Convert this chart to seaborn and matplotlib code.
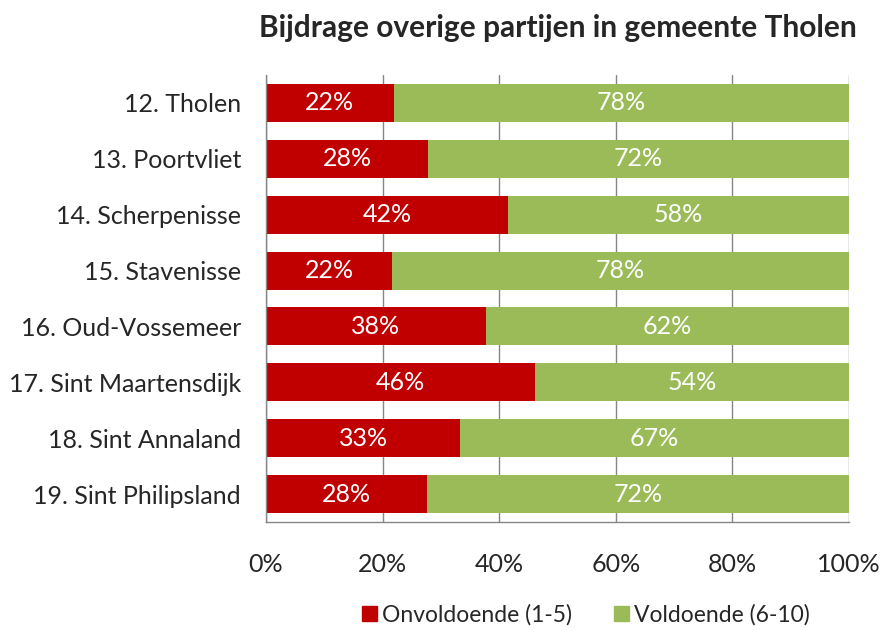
import matplotlib
matplotlib.use("Agg")
import matplotlib.pyplot as plt
import seaborn as sns
import pandas as pd
from matplotlib.patches import Patch

categories = ["12. Tholen", "13. Poortvliet", "14. Scherpenisse", "15. Stavenisse",
              "16. Oud-Vossemeer", "17. Sint Maartensdijk", "18. Sint Annaland",
              "19. Sint Philipsland"]
onvoldoende = [21.9, 27.8, 41.5, 21.6, 37.7, 46.1, 33.3, 27.6]
voldoende = [100 - v for v in onvoldoende]
xticks = [0, 20, 40, 60, 80, 100]

red = "#C00000"
green = "#9BBB59"

sns.set_style("white")
plt.rcParams["font.family"] = ["Lato", "DejaVu Sans"]

df = pd.DataFrame({"cat": categories, "onv": onvoldoende, "vol": voldoende})
df["total"] = df["onv"] + df["vol"]

fig = plt.figure(figsize=(8.82, 6.3), dpi=100)
ax = fig.add_axes([266 / 882, 1 - 522 / 630, (849 - 266) / 882, (522 - 75) / 630])

sns.barplot(data=df, y="cat", x="total", color=green, orient="h", width=0.68,
            ax=ax, saturation=1, edgecolor="none")
sns.barplot(data=df, y="cat", x="onv", color=red, orient="h", width=0.68,
            ax=ax, saturation=1, edgecolor="none")

fs = 18
ax.set_xlim(0, 100)
ax.set_ylim(len(categories) - 0.5, -0.5)
ax.set_xticks(xticks)
ax.set_xticklabels([f"{t}%" for t in xticks], fontsize=fs)
ax.tick_params(axis="x", which="both", length=5, color="#868686", width=1, pad=17)
ax.tick_params(axis="y", length=0, labelsize=fs, pad=18)
ax.set_xlabel("")
ax.set_ylabel("")
ax.xaxis.grid(True, color="#868686", linewidth=1)
ax.set_axisbelow(True)
for s in ["top", "right"]:
    ax.spines[s].set_visible(False)
for s in ["left", "bottom"]:
    ax.spines[s].set_color("#868686")
    ax.spines[s].set_linewidth(1)

for i, (o, v) in enumerate(zip(onvoldoende, voldoende)):
    ax.text(o / 2, i, f"{round(o)}%", color="white", ha="center", va="center", fontsize=fs)
    ax.text(o + v / 2, i, f"{round(v)}%", color="white", ha="center", va="center", fontsize=fs)

ax.set_title("Bijdrage overige partijen in gemeente Tholen", fontsize=21.5,
             fontweight="bold", pad=27)

handles = [Patch(color=red, label="Onvoldoende (1-5)"),
           Patch(color=green, label="Voldoende (6-10)")]
fig.legend(handles=handles, loc="center", bbox_to_anchor=(586 / 882, 1 - 615 / 630),
           ncol=2, frameon=False, fontsize=16.5, handlelength=0.65, handleheight=0.65,
           handletextpad=0.25, columnspacing=1.8)

fig.savefig("out.png", dpi=100)
